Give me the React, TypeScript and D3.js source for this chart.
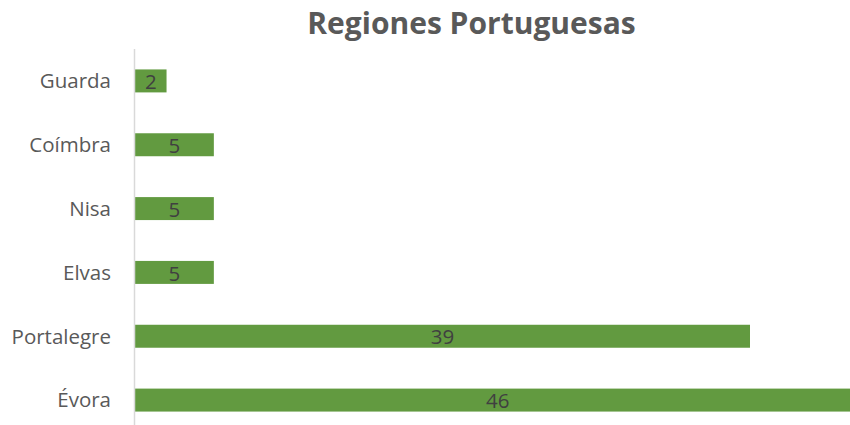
import React from "react";
import * as d3 from "d3";

const categories = ["Guarda", "Coímbra", "Nisa", "Elvas", "Portalegre", "Évora"];
const values = [2, 5, 5, 5, 39, 46];
const title = "Regiones Portuguesas";

export default function App() {
  const W = 850, H = 425;
  const x = d3.scaleLinear().domain([0, 39]).range([135, 750]);
  const y = d3.scaleBand<string>().domain(categories).range([49, 432]).paddingInner(0.64).paddingOuter(0.32);
  const font = "'Open Sans', sans-serif";
  return (
    <svg width={W} height={H} style={{ position: "absolute", left: 0, top: 0, background: "#fff" }}>
      <text x={471.5} y={34} textAnchor="middle" fontFamily={font} fontWeight="bold" fontSize={30} fill="#595959">{title}</text>
      {categories.map((c, i) => (
        <g key={c}>
          <rect x={x(0)} y={y(c)!} width={x(values[i]) - x(0)} height={y.bandwidth()} fill="#629a40" />
          <text x={111} y={y(c)! + y.bandwidth() / 2} dy="0.36em" textAnchor="end" fontFamily={font} fontSize={20.5} fill="#595959">{c}</text>
          <text x={(x(0) + x(values[i])) / 2} y={y(c)! + y.bandwidth() / 2} dy="0.4em" textAnchor="middle" fontFamily={font} fontSize={20.5} fill="#404040">{values[i]}</text>
        </g>
      ))}
      <line x1={134.5} x2={134.5} y1={49} y2={H} stroke="#d9d9d9" strokeWidth={1.5} />
    </svg>
  );
}
